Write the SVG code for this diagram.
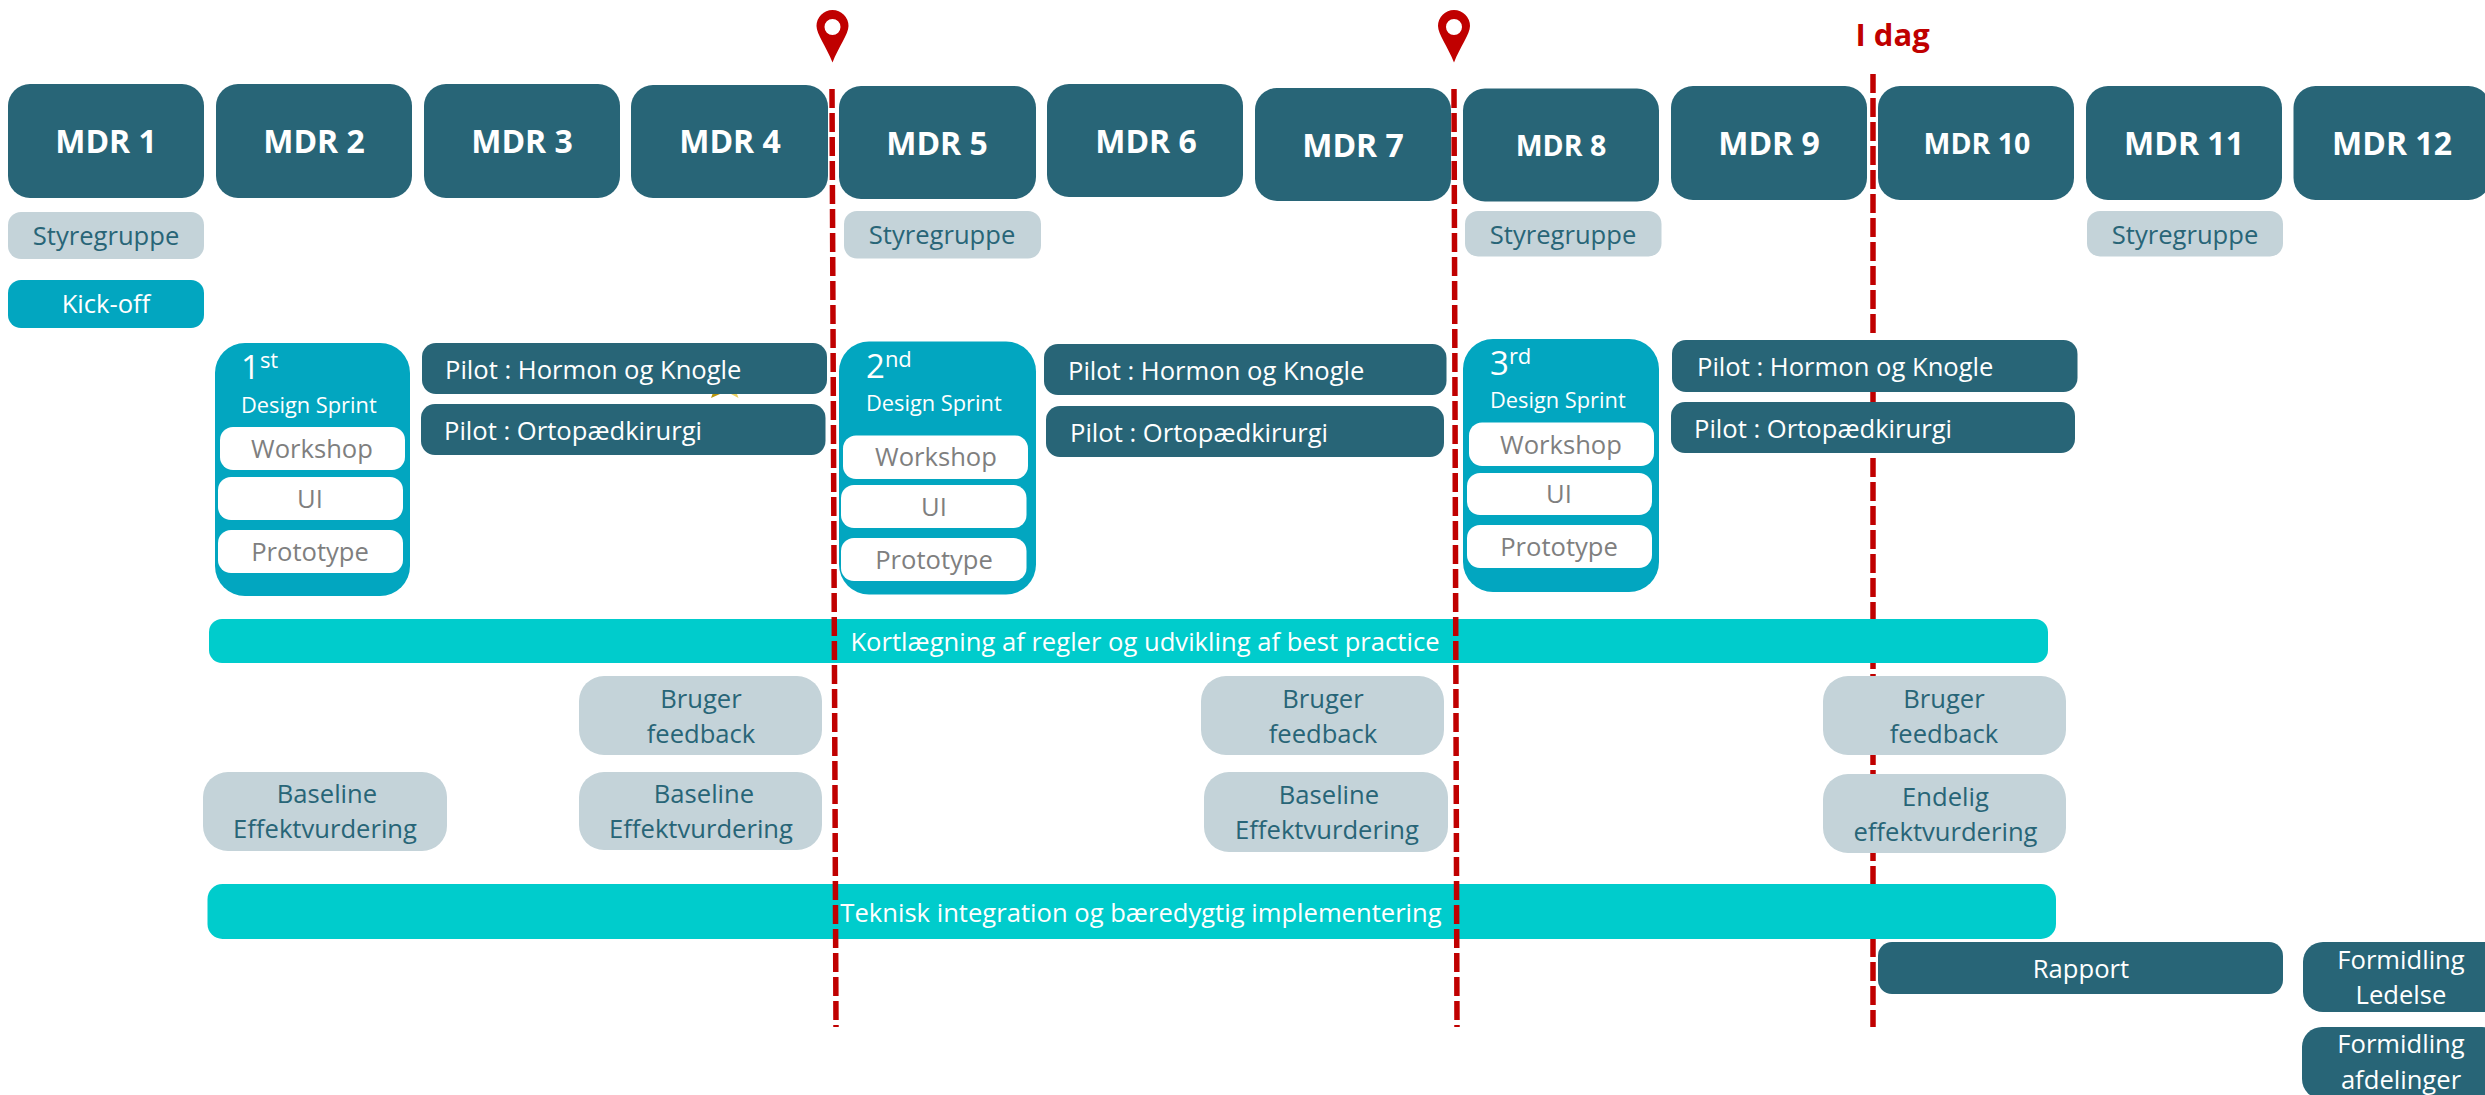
<svg xmlns="http://www.w3.org/2000/svg" width="2485" height="1095" viewBox="0 0 2485 1095">
<style>
text{font-family:"Open Sans","Liberation Sans",sans-serif}
.c{text-anchor:middle}
.mdr{fill:#286577}
.mt{fill:#fff;font-size:32px;font-weight:700}
.ms{font-size:28.500px}
.grey{fill:#c4d3d9}
.gt{fill:#286577;font-size:25.600px}
.wt{fill:#fff;font-size:25.600px}
.cyan{fill:#02a6c0}
.white{fill:#fff}
.st{fill:#7f7f7f;font-size:25.600px}
.bar{fill:#00cccc}
.sn{fill:#fff;font-size:33px}
.sup{font-size:22px}
.ds{fill:#fff;font-size:21.800px}
.conn{fill:none;stroke:#c00000;stroke-width:5.500;stroke-dasharray:19 5}
.pin{fill:#c00000}
</style>
<defs>
<path id="pinShape" class="pin" fill-rule="evenodd" d="M0 52.500C-6 37-16 24-16 16A16 16 0 0 1 16 16C16 24 6 37 0 52.500ZM0 9A8 8 0 1 0 0 25A8 8 0 1 0 0 9Z"/>
<clipPath id="todayVisible">
<rect x="1860" y="70" width="30" height="268"/>
<rect x="1860" y="392" width="30" height="10"/>
<rect x="1860" y="453" width="30" height="166"/>
<rect x="1860" y="663" width="30" height="13"/>
<rect x="1860" y="755" width="30" height="19"/>
<rect x="1860" y="853" width="30" height="31"/>
<rect x="1860" y="939" width="30" height="90"/>
</clipPath>
</defs>
<rect width="2485" height="1095" fill="#fff"/>

<g id="mdr1"><rect class="mdr" x="8" y="84" width="196" height="114" rx="22"/><text class="mt c" x="106" y="153">MDR 1</text></g>
<g id="mdr2"><rect class="mdr" x="216" y="84" width="196" height="114" rx="22"/><text class="mt c" x="314" y="153">MDR 2</text></g>
<g id="mdr3"><rect class="mdr" x="424" y="84" width="196" height="114" rx="22"/><text class="mt c" x="522" y="153">MDR 3</text></g>
<g id="mdr4"><rect class="mdr" x="631" y="85" width="197" height="113" rx="22"/><text class="mt c" x="730" y="153">MDR 4</text></g>
<g id="mdr5"><rect class="mdr" x="839" y="86" width="197" height="113" rx="22"/><text class="mt c" x="937" y="155">MDR 5</text></g>
<g id="mdr6"><rect class="mdr" x="1047" y="84" width="196" height="113" rx="22"/><text class="mt c" x="1146" y="153">MDR 6</text></g>
<g id="mdr7"><rect class="mdr" x="1255" y="88" width="196" height="113" rx="22"/><text class="mt c" x="1353" y="157">MDR 7</text></g>
<g id="mdr8"><rect class="mdr" x="1463" y="88.500" width="196" height="113" rx="22"/><text class="mt ms c" x="1561" y="156">MDR 8</text></g>
<g id="mdr9"><rect class="mdr" x="1671" y="86" width="196" height="114" rx="22"/><text class="mt c" x="1769" y="155">MDR 9</text></g>
<g id="mdr10"><rect class="mdr" x="1878" y="86" width="196" height="114" rx="22"/><text class="mt ms c" x="1977" y="154">MDR 10</text></g>
<g id="mdr11"><rect class="mdr" x="2086" y="86" width="196" height="114" rx="22"/><text class="mt c" x="2184" y="155">MDR 11</text></g>
<g id="mdr12"><rect class="mdr" x="2293.500" y="86" width="197" height="114" rx="22"/><text class="mt c" x="2392" y="155">MDR 12</text></g>

<g id="styre1"><rect class="grey" x="8" y="212" width="196" height="47" rx="13"/><text class="gt c" x="106" y="245">Styregruppe</text></g>
<g id="styre5"><rect class="grey" x="844" y="211" width="197" height="47.500" rx="13"/><text class="gt c" x="942" y="244">Styregruppe</text></g>
<g id="styre8"><rect class="grey" x="1465" y="211" width="196.500" height="45.500" rx="13"/><text class="gt c" x="1563" y="244">Styregruppe</text></g>
<g id="styre11"><rect class="grey" x="2087" y="211" width="196" height="45.500" rx="13"/><text class="gt c" x="2185" y="244">Styregruppe</text></g>

<g id="kickoff"><rect class="cyan" x="8" y="280" width="196" height="48" rx="13"/><text class="wt c" x="106" y="313">Kick-off</text></g>

<g id="sprint1"><rect class="cyan" x="215" y="343" width="195" height="253" rx="30"/>
<text class="sn" x="241" y="379">1<tspan class="sup" dy="-11">st</tspan></text>
<text class="ds" x="241" y="413">Design Sprint</text>
<rect class="white" x="220" y="427" width="185" height="43" rx="13"/><text class="st c" x="312" y="458">Workshop</text>
<rect class="white" x="218" y="477" width="185" height="43" rx="13"/><text class="st c" x="310" y="508">UI</text>
<rect class="white" x="218" y="530" width="185" height="43" rx="13"/><text class="st c" x="310" y="561">Prototype</text></g>

<g id="sprint2"><rect class="cyan" x="839" y="341.500" width="197" height="253" rx="30"/>
<text class="sn" x="866" y="377.500">2<tspan class="sup" dy="-11">nd</tspan></text>
<text class="ds" x="866" y="411">Design Sprint</text>
<rect class="white" x="843" y="435.500" width="185" height="43.500" rx="13"/><text class="st c" x="936" y="466">Workshop</text>
<rect class="white" x="841" y="485" width="185.500" height="43" rx="13"/><text class="st c" x="934" y="516">UI</text>
<rect class="white" x="841" y="538" width="185.500" height="43" rx="13"/><text class="st c" x="934" y="569">Prototype</text></g>

<g id="sprint3"><rect class="cyan" x="1463" y="339" width="196" height="253" rx="30"/>
<text class="sn" x="1490" y="375">3<tspan class="sup" dy="-11">rd</tspan></text>
<text class="ds" x="1490" y="408">Design Sprint</text>
<rect class="white" x="1469" y="422.500" width="185" height="43.500" rx="13"/><text class="st c" x="1561" y="454">Workshop</text>
<rect class="white" x="1467" y="473" width="185" height="42" rx="13"/><text class="st c" x="1559" y="503">UI</text>
<rect class="white" x="1467" y="525" width="185" height="43" rx="13"/><text class="st c" x="1559" y="556">Prototype</text></g>

<g id="star-tips"><polygon fill="#b8960c" points="711,398 712.500,394 720,394"/><polygon fill="#e8cf60" points="731,394 737,394 738.500,398"/></g>

<g id="pilot-h1"><rect class="mdr" x="422" y="343" width="405" height="51" rx="14"/><text class="wt" x="445" y="379">Pilot : Hormon og Knogle</text></g>
<g id="pilot-o1"><rect class="mdr" x="421" y="404" width="404.500" height="51" rx="14"/><text class="wt" x="444" y="440">Pilot : Ortopædkirurgi</text></g>
<g id="pilot-h2"><rect class="mdr" x="1044" y="344" width="402.500" height="51" rx="14"/><text class="wt" x="1068" y="380">Pilot : Hormon og Knogle</text></g>
<g id="pilot-o2"><rect class="mdr" x="1046" y="406" width="398" height="51" rx="14"/><text class="wt" x="1070" y="442">Pilot : Ortopædkirurgi</text></g>
<g id="pilot-h3"><rect class="mdr" x="1672" y="340" width="405.500" height="52" rx="14"/><text class="wt" x="1697" y="376">Pilot : Hormon og Knogle</text></g>
<g id="pilot-o3"><rect class="mdr" x="1671" y="402" width="404" height="51" rx="14"/><text class="wt" x="1694" y="438">Pilot : Ortopædkirurgi</text></g>

<g id="bar-regler"><rect class="bar" x="209" y="619" width="1839" height="44" rx="13"/><text class="wt c" x="1145" y="651">Kortlægning af regler og udvikling af best practice</text></g>

<g id="feedback1"><rect class="grey" x="579" y="676" width="243" height="79" rx="25"/><text class="gt c" x="701" y="708">Bruger</text><text class="gt c" x="701" y="743">feedback</text></g>
<g id="feedback2"><rect class="grey" x="1201" y="676" width="243" height="79" rx="25"/><text class="gt c" x="1323" y="708">Bruger</text><text class="gt c" x="1323" y="743">feedback</text></g>
<g id="feedback3"><rect class="grey" x="1823" y="676" width="243" height="79" rx="25"/><text class="gt c" x="1944" y="708">Bruger</text><text class="gt c" x="1944" y="743">feedback</text></g>

<g id="baseline0"><rect class="grey" x="203" y="772" width="244" height="79" rx="25"/><text class="gt c" x="327" y="803">Baseline</text><text class="gt c" x="325" y="838">Effektvurdering</text></g>
<g id="baseline1"><rect class="grey" x="579" y="772" width="243" height="78" rx="25"/><text class="gt c" x="704" y="803">Baseline</text><text class="gt c" x="701" y="838">Effektvurdering</text></g>
<g id="baseline2"><rect class="grey" x="1204" y="772" width="244" height="80" rx="25"/><text class="gt c" x="1329" y="804">Baseline</text><text class="gt c" x="1327" y="839">Effektvurdering</text></g>
<g id="endelig"><rect class="grey" x="1823" y="774" width="243" height="79" rx="25"/><text class="gt c" x="1945.500" y="806">Endelig</text><text class="gt c" x="1945.500" y="841">effektvurdering</text></g>

<g id="bar-teknisk"><rect class="bar" x="207.500" y="884" width="1848.500" height="55" rx="15"/><text class="wt c" x="1141" y="922">Teknisk integration og bæredygtig implementering</text></g>

<g id="rapport"><rect class="mdr" x="1878" y="942" width="405" height="52" rx="14"/><text class="wt c" x="2081" y="978">Rapport</text></g>
<g id="formidling-ledelse"><rect class="mdr" x="2303" y="942" width="200" height="70" rx="20"/><text class="wt c" x="2401" y="969">Formidling</text><text class="wt c" x="2401" y="1004">Ledelse</text></g>
<g id="formidling-afdelinger"><rect class="mdr" x="2302" y="1027" width="200" height="72" rx="20"/><text class="wt c" x="2401" y="1053">Formidling</text><text class="wt c" x="2401" y="1089">afdelinger</text></g>

<g id="pin1"><use href="#pinShape" x="832.500" y="10"/></g>
<g id="pin2"><use href="#pinShape" x="1454" y="10"/></g>
<g id="today-label"><text x="1855.500" y="46" style="fill:#c00000;font-size:31px;font-weight:700">I dag</text></g>

<g id="connectors">
<line class="conn" x1="832" y1="89" x2="836" y2="1027"/>
<line class="conn" x1="1454" y1="89" x2="1457" y2="1027"/>
<line class="conn" x1="1873" y1="74" x2="1873" y2="1027" clip-path="url(#todayVisible)"/>
</g>
</svg>
